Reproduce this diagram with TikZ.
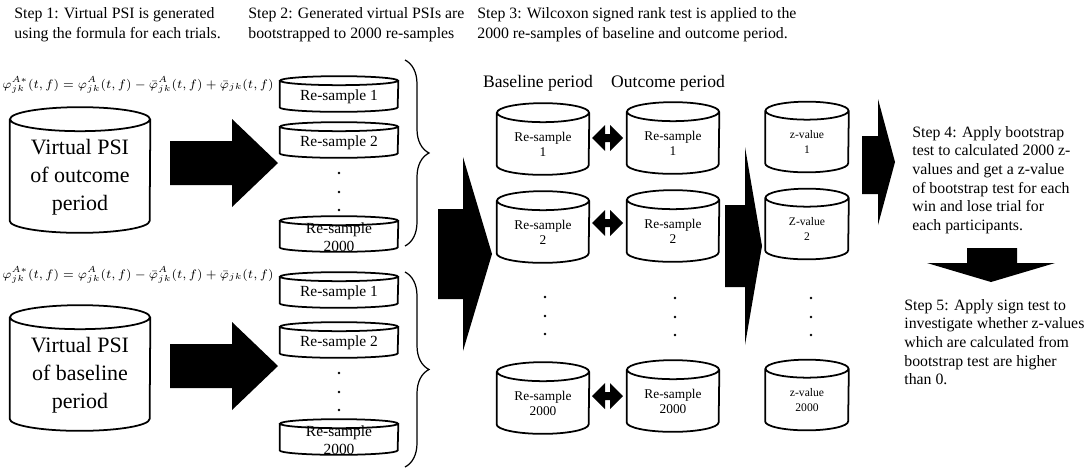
\documentclass[tikz,border=0pt]{standalone}
\usepackage{fontspec}
\setmainfont{Liberation Serif}
\usetikzlibrary{decorations.pathreplacing}

\begin{document}
\begin{tikzpicture}[x=0.02cm,y=-0.02cm]
    \tikzset{db/.style={inner sep=0pt},
      big/.style={db,minimum width=2.8cm,minimum height=2.5cm},
      rs/.style={db,minimum width=2.36cm,minimum height=0.7cm},
      col/.style={db,minimum width=1.84cm,minimum height=1.42cm},
      zv/.style={db,minimum width=1.66cm,minimum height=1.4cm},
      cyl/.style={line width=1pt},
      bigtxt/.style={align=center,yshift=-0.14cm,font=\fontsize{12.5}{16}\selectfont},
      rstxt/.style={align=center,yshift=-0.06cm,font=\fontsize{8.8}{10.5}\selectfont},
      coltxt/.style={align=center,yshift=-0.1cm,font=\fontsize{7.6}{8.6}\selectfont},
      ztxt/.style={align=center,yshift=-0.1cm,font=\fontsize{6.6}{8.6}\selectfont},
      txt/.style={inner sep=0pt,align=left,anchor=north west,font=\fontsize{9}{11.4}\selectfont},
      frm/.style={anchor=west,inner sep=0pt,font=\fontsize{7.4}{9}\selectfont},
      brc/.style={line width=0.7pt,decorate,decoration={brace,amplitude=0.48cm}}};
    \useasboundingbox (0,0) rectangle (1084,471);
	\node (S1) at (14,7) [txt] {Step 1: Virtual PSI is generated\\using the formula for each trials.};
	\node (S2) at (248,7) [txt] {Step 2: Generated virtual PSIs are\\bootstrapped to 2000 re-samples};
	\node (S3) at (477,7) [txt] {Step 3: Wilcoxon signed rank test is applied to the\\2000 re-samples of baseline and outcome period.};
	\node (F1) at (2,85) [frm] {$\varphi_{jk}^{A*}(t,f)=\varphi_{jk}^{A}(t,f)-\bar{\varphi}_{jk}^{A}(t,f)+\bar{\varphi}_{jk}(t,f)$};
	\node (F2) at (2,275) [frm] {$\varphi_{jk}^{A*}(t,f)=\varphi_{jk}^{A}(t,f)-\bar{\varphi}_{jk}^{A}(t,f)+\bar{\varphi}_{jk}(t,f)$};
	\node (OUT) at (80,170) [big,label={[bigtxt]center:Virtual PSI\\of outcome\\period}] {};
	\node (BAS) at (80,368) [big,label={[bigtxt]center:Virtual PSI\\of baseline\\period}] {};
	\foreach \c in {163,366}
	  \fill (170,\c-22) -- (232,\c-22) -- (232,\c-44) -- (278,\c) -- (232,\c+44) -- (232,\c+22) -- (170,\c+22) -- cycle;
	\node (O1) at (339,94) [rs,label={[rstxt]center:Re-sample 1}] {};
	\node (O2) at (339,140) [rs,label={[rstxt]center:Re-sample 2}] {};
	\node (O3) at (339,234) [rs,label={[rstxt]center:Re-sample\\2000}] {};
	\node (B1) at (339,290) [rs,label={[rstxt]center:Re-sample 1}] {};
	\node (B2) at (339,340) [rs,label={[rstxt]center:Re-sample 2}] {};
	\node (B3) at (339,437) [rs,label={[rstxt]center:Re-sample\\2000}] {};
	\foreach \y in {0,19,37} {
	  \fill (339,173+\y) circle (1.3);
	  \fill (339,373+\y) circle (1.3);
	  \fill (545,297+\y) circle (1.3);
	  \fill (675,298+\y) circle (1.3);
	  \fill (811,298+\y) circle (1.3);
	}
	\draw[brc] (405,60) -- (405,246);
	\draw[brc] (405,272) -- (405,467);
	\fill (438,209) -- (463,209) -- (463,157) -- (492,254) -- (463,351) -- (463,299) -- (438,299) -- cycle;
	\node (BP) at (538,83) [font=\fontsize{10}{12}\selectfont] {Baseline period};
	\node (OP) at (668,83) [font=\fontsize{10}{12}\selectfont] {Outcome period};
	\node (BR1) at (543,139) [col,label={[coltxt]center:Re-sample\\1}] {};
	\node (BR2) at (543,227) [col,label={[coltxt]center:Re-sample\\2}] {};
	\node (BR3) at (543,398) [col,label={[coltxt]center:Re-sample\\2000}] {};
	\node (OR1) at (673,138) [col,label={[coltxt]center:Re-sample\\1}] {};
	\node (OR2) at (673,226) [col,label={[coltxt]center:Re-sample\\2}] {};
	\node (OR3) at (673,396) [col,label={[coltxt]center:Re-sample\\2000}] {};
	\foreach \c in {138,223,396}
	  \fill (592,\c) -- (605,\c-13) -- (605,\c-4) -- (610,\c-4) -- (610,\c-13) -- (623,\c) -- (610,\c+13) -- (610,\c+4) -- (605,\c+4) -- (605,\c+13) -- cycle;
	\fill (725,205) -- (745,205) -- (745,147) -- (762,246) -- (745,345) -- (745,287) -- (725,287) -- cycle;
	\node (Z1) at (807,137) [zv,label={[ztxt]center:z-value\\1}] {};
	\node (Z2) at (807,224) [zv,label={[ztxt]center:Z-value\\2}] {};
	\node (Z3) at (807,395) [zv,label={[ztxt]center:z-value\\2000}] {};
	\foreach \n/\w/\r in {OUT/1.4/0.24,BAS/1.4/0.24,O1/1.18/0.09,O2/1.18/0.09,O3/1.18/0.09,B1/1.18/0.09,B2/1.18/0.09,B3/1.18/0.09,
	    BR1/0.92/0.19,BR2/0.92/0.19,BR3/0.92/0.19,OR1/0.92/0.19,OR2/0.92/0.19,OR3/0.92/0.19,Z1/0.83/0.18,Z2/0.83/0.18,Z3/0.83/0.18}
	  \draw[cyl] ([yshift=-\r cm]\n.north west) -- ([yshift=\r cm]\n.south west)
	    arc[start angle=180,end angle=360,x radius=\w cm,y radius=\r cm] -- ([yshift=-\r cm]\n.north east)
	    ([yshift=-\r cm]\n.north) ellipse[x radius=\w cm,y radius=\r cm];
	\fill (862,136) -- (878,136) -- (878,99) -- (895,162) -- (878,225) -- (878,194) -- (862,194) -- cycle;
	\node (S4) at (912,126) [txt,font=\fontsize{9}{10.6}\selectfont] {Step 4: Apply bootstrap\\test to calculated 2000 z-\\values and get a z-value\\of bootstrap test for each\\win and lose trial for\\each participants.};
	\fill (967,248) -- (1017,248) -- (1017,263) -- (1055,263) -- (991,282) -- (927,263) -- (967,263) -- cycle;
	\node (S5) at (904,299) [txt,font=\fontsize{9}{10.6}\selectfont] {Step 5: Apply sign test to\\investigate whether z-values\\which are calculated from\\bootstrap test are higher\\than 0.};
\end{tikzpicture}
\end{document}
